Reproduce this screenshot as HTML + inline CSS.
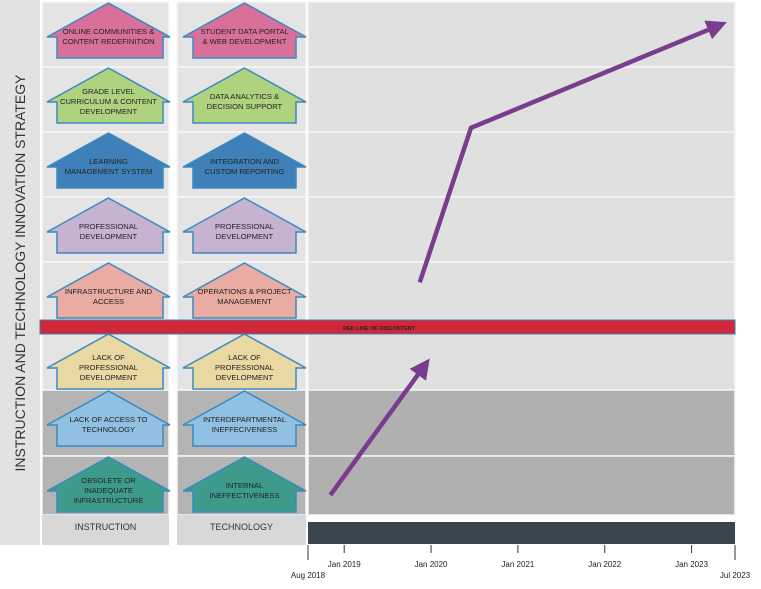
<!DOCTYPE html>
<html><head><meta charset="utf-8"><style>
html,body{margin:0;padding:0;background:#fff;}
svg{display:block;font-family:"Liberation Sans",sans-serif;}
</style></head><body>
<svg id="c" width="761" height="589" viewBox="0 0 761 589">
<defs>
<marker id="ah" viewBox="0 0 10 10" refX="6" refY="5" markerWidth="4.5" markerHeight="4.5" orient="auto" markerUnits="strokeWidth"><path d="M0,0 L10,5 L0,10 Z" fill="#7a3d8e"/></marker>
</defs>
<rect x="0" y="0" width="40" height="545" fill="#e2e2e2"/>
<text transform="translate(25,273) rotate(-90)" text-anchor="middle" font-size="14" fill="#333">INSTRUCTION AND TECHNOLOGY INNOVATION STRATEGY</text>
<g id="rows"></g><g id="houses"></g>
<rect x="40" y="320" width="695" height="14" fill="#d0283a" stroke="#3a7fb0" stroke-width="1"/>
<text x="343" y="330" font-size="5.5" font-weight="bold" fill="#222">RED LINE OF DISCONTENT</text>
<rect x="308" y="522" width="427" height="22" fill="#3b454e"/>
<g id="axis"></g><g id="arrows"></g>
</svg>
<script>
const tickLabels=["Jan 2019","Jan 2020","Jan 2021","Jan 2022","Jan 2023"];
const tickTimes=[2019,2020,2021,2022,2023];
const axisStart=2018.583, axisEnd=2023.5;
const instrLabels=[["ONLINE COMMUNITIES &","CONTENT REDEFINITION"],["GRADE LEVEL","CURRICULUM & CONTENT","DEVELOPMENT"],["LEARNING","MANAGEMENT  SYSTEM"],["PROFESSIONAL","DEVELOPMENT"],["INFRASTRUCTURE AND","ACCESS"],["LACK OF","PROFESSIONAL","DEVELOPMENT"],["LACK OF ACCESS TO","TECHNOLOGY"],["OBSOLETE OR","INADEQUATE","INFRASTRUCTURE"]];
const techLabels=[["STUDENT DATA PORTAL","& WEB DEVELOPMENT"],["DATA ANALYTICS &","DECISION SUPPORT"],["INTEGRATION AND","CUSTOM REPORTING"],["PROFESSIONAL","DEVELOPMENT"],["OPERATIONS & PROJECT","MANAGEMENT"],["LACK OF","PROFESSIONAL","DEVELOPMENT"],["INTERDEPARTMENTAL","INEFFECIVENESS"],["INTERNAL","INEFFECTIVENESS"]];
const houseColors=["#d9709a","#aed27e","#3f80b9","#c6b3d0","#e8aca2","#e9d8a2","#90c0e2","#3e9b8b"];
const arrow1T=[2018.84,2019.93];
const arrow1V=[0.31,2.34];
const arrow2T=[2019.87,2020.46,2023.32];
const arrow2V=[3.63,6.04,7.64];

const NS="http://www.w3.org/2000/svg";
const rowTops=[2,67,132,197,262,334,390,456], rowBots=[67,132,197,262,320,390,456,515];
const x=t=>308+(t-axisStart)/(axisEnd-axisStart)*427;
const y=v=>515-v*64.1;
function mk(tag,attrs,parent){const e=document.createElementNS(NS,tag);for(const k in attrs)e.setAttribute(k,attrs[k]);parent.appendChild(e);return e;}
const rows=document.getElementById('rows'),houses=document.getElementById('houses'),axis=document.getElementById('axis'),arrows=document.getElementById('arrows');
rowTops.forEach((t,i)=>{
  const dark=i>=6;
  const r=mk('rect',{x:308,y:t,width:427,height:rowBots[i]-t,fill:dark?'#b0b0b0':'#e0e0e0',stroke:'#f5f5f5','stroke-width':1.5},rows);
  
  
  [[42,127],[177,129]].forEach(([cx,w],j)=>{
    const c=mk('rect',{x:cx,y:t,width:w,height:rowBots[i]-t,fill:dark?'#b4b4b4':'#e4e4e4',stroke:'#f7f7f7','stroke-width':1.5},rows);
    
    
  });
});
[[42,127,'INSTRUCTION'],[177,129,'TECHNOLOGY']].forEach(([cx,w,l])=>{
  const r=mk('rect',{x:cx,y:515,width:w,height:30,fill:'#d8d8d8'},rows);
  
  
  const tx=mk('text',{x:cx+w/2,y:530,'text-anchor':'middle','font-size':9,fill:'#333'},rows);
  tx.textContent=l;
  
  
});
function house(bx0,bx1,ex0,ex1,top,color,lines,name){
  const g=mk('g',{},houses);
  
  
  const mid=(ex0+ex1)/2,pk=top+1,ev=top+35,bt=top+56;
  mk('polygon',{points:`${mid},${pk} ${ex1},${ev} ${bx1},${ev} ${bx1},${bt} ${bx0},${bt} ${bx0},${ev} ${ex0},${ev}`,fill:color,stroke:'#3a8ac0','stroke-width':1.5},g);
  const cy=top+34;const n=lines.length;
  lines.forEach((l,k)=>{const tx=mk('text',{x:mid,y:cy+(k-(n-1)/2)*10+3,'text-anchor':'middle','font-size':7.6,fill:'#222'},g);tx.textContent=l;});
}
rowTops.forEach((t,i)=>{
  const top=i==5?t-1:t;
  house(57,163,47,170,top,houseColors[i],instrLabels[i],'instruction-house-'+(i+1));
  house(193,296,183,306,top,houseColors[i],techLabels[i],'technology-house-'+(i+1));
});
const a0=mk('line',{x1:308,y1:545,x2:308,y2:560,stroke:'#333'},axis);

const a1=mk('line',{x1:735,y1:545,x2:735,y2:560,stroke:'#333'},axis);

[[308,'Aug 2018'],[735,'Jul 2023']].forEach(([px,l])=>{const tx=mk('text',{x:px,y:578,'text-anchor':'middle','font-size':8,fill:'#222'},axis);tx.textContent=l;});
tickTimes.forEach((t,i)=>{
  const l=mk('line',{x1:x(t),y1:545,x2:x(t),y2:553,stroke:'#333'},axis);
  
  const tx=mk('text',{x:x(t),y:567,'text-anchor':'middle','font-size':8,fill:'#222'},axis);
  tx.textContent=tickLabels[i];
  
});
[[arrow1T,arrow1V],[arrow2T,arrow2V]].forEach(([ts,vs],k)=>{
  const p=mk('polyline',{points:ts.map((t,i)=>x(t)+','+y(vs[i])).join(' '),fill:'none',stroke:'#7a3d8e','stroke-width':4.5,'marker-end':'url(#ah)','stroke-linejoin':'miter'},arrows);
  
  
});
</script>
</body></html>
